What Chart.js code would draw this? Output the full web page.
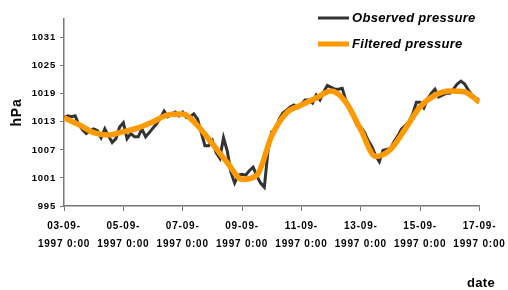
<!DOCTYPE html>
<html lang="en">
<head>
  <meta charset="UTF-8">
  <title>Observed and filtered pressure</title>
  <script src="https://cdn.jsdelivr.net/npm/chart.js"></script>
  <style>
    body { margin: 0; background: #fff; }
    canvas { display: block; }
  </style>
</head>
<body>
  <canvas id="pressureChart" width="508" height="290"></canvas>
  <script>
    // x tick labels (every 2 days, 03-09-1997 .. 17-09-1997)
    const dateLabels = [
      ['03-09-', '1997 0:00'], ['05-09-', '1997 0:00'], ['07-09-', '1997 0:00'], ['09-09-', '1997 0:00'],
      ['11-09-', '1997 0:00'], ['13-09-', '1997 0:00'], ['15-09-', '1997 0:00'], ['17-09-', '1997 0:00']
    ];
    const yTicks = [995, 1001, 1007, 1013, 1019, 1025, 1031];

    // observed pressure, one value every 3 hours from 03-09 0:00
    const observedHPa = [
      1013.9, 1014.3, 1014.1, 1014.3, 1012.4, 1011.3, 1010.5, 1011.1, 1011.5, 1011.1,
      1009.6, 1011.5, 1010.0, 1008.6, 1009.4, 1011.9, 1012.8, 1009.4, 1010.5, 1009.8,
      1009.8, 1011.5, 1009.8, 1010.7, 1011.7, 1012.6, 1013.9, 1015.3, 1014.1, 1014.7,
      1015.1, 1014.3, 1015.1, 1013.9, 1014.1, 1014.7, 1013.6, 1010.7, 1007.9, 1007.9,
      1009.0, 1006.4, 1005.2, 1009.6, 1006.8, 1002.2, 999.9, 1001.6, 1001.8, 1001.6,
      1002.6, 1003.3, 1001.4, 999.9, 999.0, 1006.9, 1010.9, 1011.3, 1013.6, 1014.9,
      1015.5, 1016.2, 1016.6, 1016.0, 1016.8, 1017.7, 1017.7, 1017.0, 1018.7, 1017.7,
      1019.4, 1020.8, 1020.4, 1020.0, 1020.0, 1020.2, 1017.5, 1015.5, 1014.1, 1012.2,
      1011.9, 1010.7, 1009.0, 1007.7, 1005.8, 1004.5, 1006.9, 1007.1, 1007.3, 1008.8,
      1010.0, 1011.5, 1012.2, 1013.0, 1014.7, 1017.2, 1017.2, 1016.0, 1017.9, 1019.1,
      1020.0, 1018.3, 1018.7, 1019.1, 1019.1, 1020.0, 1021.1, 1021.7, 1021.1, 1019.8,
      1018.7, 1018.1, 1017.7
    ];
    const observedStepHours = 3;

    // filtered pressure, one value every 12 hours from 03-09 0:00
    const filteredHPa = [
      1013.9, 1012.4, 1010.7, 1010.2, 1010.9, 1011.7, 1013.0, 1014.5, 1014.7, 1012.2,
      1008.3, 1004.3, 1000.7, 1001.6, 1010.0, 1014.9, 1016.6, 1018.1, 1019.6, 1017.2,
      1011.3, 1005.6, 1007.1, 1011.5, 1016.2, 1018.7, 1019.6, 1019.4, 1017.2
    ];
    const filteredStepHours = 12;

    const toPoints = (values, stepHours) =>
      values.map((v, i) => ({ x: i * stepHours / 24, y: v }));

    const textFont = "'Liberation Sans', Arial, sans-serif";

    // legend and the "date" label, drawn on the canvas
    const extraText = {
      id: 'extraText',
      beforeDraw(chart) {
        chart.ctx.letterSpacing = '0.8px';
      },
      afterDraw(chart) {
        const ctx = chart.ctx;
        ctx.save();
        ctx.letterSpacing = '0.3px';
        ctx.lineCap = 'butt';
        const items = [
          { text: 'Observed pressure', color: '#333333', width: 3, y: 18 },
          { text: 'Filtered pressure', color: '#ff9900', width: 5, y: 44 }
        ];
        items.forEach(item => {
          ctx.strokeStyle = item.color;
          ctx.lineWidth = item.width;
          ctx.beginPath();
          ctx.moveTo(318, item.y);
          ctx.lineTo(349, item.y);
          ctx.stroke();
          ctx.fillStyle = '#000';
          ctx.font = 'italic bold 13px ' + textFont;
          ctx.textAlign = 'left';
          ctx.textBaseline = 'middle';
          ctx.fillText(item.text, 352, item.y);
        });
        ctx.font = 'bold 13px ' + textFont;
        ctx.textAlign = 'right';
        ctx.fillText('date', 495, 283);
        ctx.restore();
      }
    };

    const ctx = document.getElementById('pressureChart').getContext('2d');
    new Chart(ctx, {
      type: 'line',
      data: {
        datasets: [
          {
            label: 'Observed pressure',
            data: toPoints(observedHPa, observedStepHours),
            borderColor: '#333333',
            borderWidth: 3,
            pointRadius: 0,
            tension: 0,
            order: 2
          },
          {
            label: 'Filtered pressure',
            data: toPoints(filteredHPa, filteredStepHours),
            borderColor: '#ff9900',
            borderWidth: 5.5,
            pointRadius: 0,
            cubicInterpolationMode: 'monotone',
            order: 1
          }
        ]
      },
      options: {
        responsive: false,
        animation: false,
        layout: { padding: { left: 0, top: 19, right: 25, bottom: 0 } },
        plugins: {
          legend: { display: false },
          tooltip: { enabled: false }
        },
        scales: {
          x: {
            type: 'linear',
            min: 0,
            max: 14,
            afterBuildTicks: scale => {
              scale.ticks = dateLabels.map((_, i) => ({ value: i * 2 }));
            },
            afterFit: scale => { scale.height = 84; },
            ticks: {
              callback: (value) => dateLabels[Math.round(value / 2)],
              maxRotation: 0,
              autoSkip: false,
              padding: 6,
              color: '#000',
              font: { family: textFont, size: 10, weight: 'bold', lineHeight: 1.8 }
            },
            grid: { drawOnChartArea: false, drawTicks: true, tickLength: 5, color: '#777' },
            border: { display: true, color: '#777', width: 1.5 }
          },
          y: {
            min: 995,
            max: 1035,
            afterBuildTicks: scale => {
              scale.ticks = yTicks.map(v => ({ value: v }));
            },
            afterFit: scale => { scale.width = 64; },
            ticks: {
              callback: (value) => String(value),
              padding: 4,
              color: '#000',
              font: { family: textFont, size: 9.5, weight: 'bold' }
            },
            title: {
              display: true,
              text: 'hPa',
              color: '#000',
              padding: { top: 9, bottom: 0 },
              font: { family: textFont, size: 14, weight: 'bold' }
            },
            grid: { drawOnChartArea: false, drawTicks: true, tickLength: 4, color: '#777' },
            border: { display: true, color: '#777', width: 1.5 }
          }
        }
      },
      plugins: [extraText]
    });
  </script>
</body>
</html>
